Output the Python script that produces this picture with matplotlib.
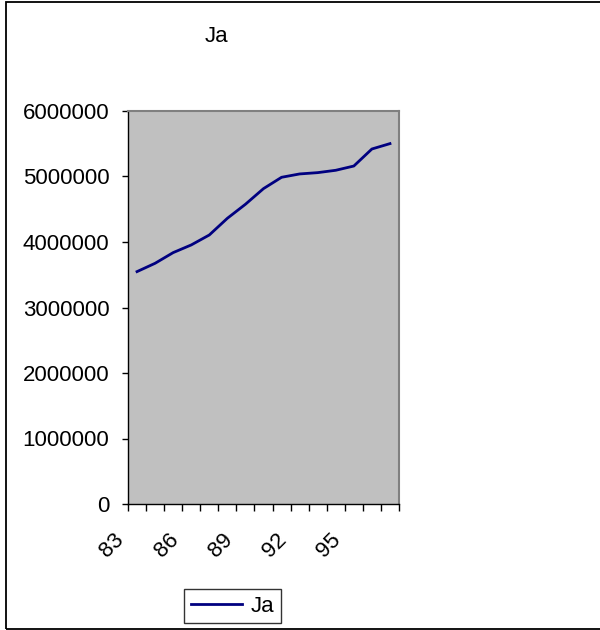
import matplotlib
matplotlib.use("Agg")
import matplotlib.pyplot as plt
import matplotlib.transforms as mtransforms
from matplotlib.patches import Rectangle
from matplotlib.ticker import FuncFormatter
import numpy as np

# 数据
years = ["83", "84", "85", "86", "87", "88", "89", "90",
         "91", "92", "93", "94", "95", "96", "97"]
ja_values = [3548000, 3675000, 3838000, 3955000, 4107000, 4362000, 4576000, 4815000,
             4988000, 5039000, 5059000, 5095000, 5160000, 5420000, 5502000]
y_ticks = [0, 1000000, 2000000, 3000000, 4000000, 5000000, 6000000]
label_every = 3

plt.rcParams['font.family'] = ['Liberation Sans', 'DejaVu Sans']
fs = 16

fig = plt.figure(figsize=(6, 6.3), dpi=100)
ax = fig.add_axes([128 / 600, 1 - 504 / 630, 271 / 600, (504 - 111) / 630])

x = np.arange(len(years))
ax.plot(x, ja_values, color="#000080", lw=2, label="Ja")

ax.set_facecolor("#C0C0C0")
ax.set_xlim(-0.5, len(years) - 0.5)
ax.set_ylim(0, 6000000)

# 边框
for side in ["top", "right"]:
    ax.spines[side].set_color("#808080")
    ax.spines[side].set_linewidth(1.5)
for side in ["left", "bottom"]:
    ax.spines[side].set_color("black")
    ax.spines[side].set_linewidth(1.0)

# y轴
ax.set_yticks(y_ticks)
ax.yaxis.set_major_formatter(FuncFormatter(lambda v, p: "%d" % v))
ax.tick_params(axis="y", direction="out", length=4.5, width=1, pad=9, labelsize=fs)

# x轴: 分类边界刻度 + 每3年标签
ax.set_xticks(np.arange(-0.5, len(years), 1.0))
ax.set_xticklabels([])
ax.tick_params(axis="x", which="major", direction="out", length=5, width=1)
ax.set_xticks(x[::label_every], minor=True)
ax.set_xticklabels(years[::label_every], minor=True, rotation=45,
                   ha="right", va="center", rotation_mode="anchor")
ax.tick_params(axis="x", which="minor", length=0, pad=23.5, labelsize=fs)
offset = mtransforms.ScaledTranslation(-16 / 100, 0, fig.dpi_scale_trans)
for lab in ax.get_xticklabels(minor=True):
    lab.set_transform(lab.get_transform() + offset)

# 标题
fig.text(216 / 600, 1 - 37 / 630, "Ja", ha="center", va="center", fontsize=fs)

# 图例
leg = fig.legend(loc="center", bbox_to_anchor=(232.5 / 600, 1 - 606 / 630),
                 fontsize=fs, frameon=True, fancybox=False, shadow=False,
                 handlelength=2.3, handletextpad=0.4, borderpad=0.3)
leg.get_frame().set_edgecolor("black")
leg.get_frame().set_linewidth(1.0)

# 外框
fig.patches.append(Rectangle((6 / 600, 1 / 630), 620 / 600, 627 / 630,
                             transform=fig.transFigure, fill=False,
                             edgecolor="black", lw=1.3))

fig.savefig("out.png", dpi=100, facecolor="white")
